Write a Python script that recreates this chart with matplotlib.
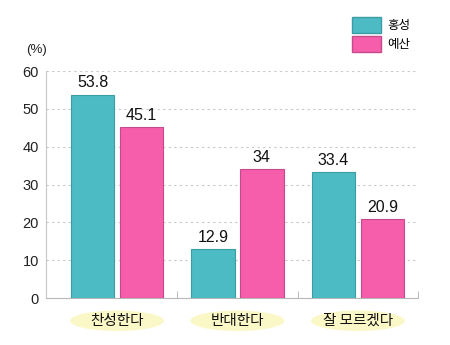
import numpy as np
import matplotlib
matplotlib.use('Agg')
from matplotlib import pyplot as plt
from matplotlib.patches import Ellipse, Patch
from matplotlib.transforms import blended_transform_factory

plt.rcParams['font.family'] = ['Liberation Sans', 'Noto Sans CJK KR', 'DejaVu Sans']

categories = ['찬성한다', '반대한다', '잘 모르겠다']
series_names = ['홍성', '예산']
hongseong = [53.8, 12.9, 33.4]
yesan = [45.1, 34, 20.9]
value_labels_h = ['53.8', '12.9', '33.4']
value_labels_y = ['45.1', '34', '20.9']
yticks = [0, 10, 20, 30, 40, 50, 60]

teal = '#4dbbc4'
pink = '#f65dab'
kr = ['Noto Sans CJK KR', 'DejaVu Sans']

fig = plt.figure(figsize=(4.5, 3.45), dpi=100)
ax = fig.add_axes([0.102, 0.136, 0.827, 0.658])

x = np.arange(len(categories))
w = 0.36
off = 0.203
b1 = ax.bar(x - off, hongseong, w, color=teal, edgecolor='#3a9ca4', linewidth=0.8, zorder=3)
b2 = ax.bar(x + off, yesan, w, color=pink, edgecolor='#c44a8c', linewidth=0.8, zorder=3)

for bars, labels in [(b1, value_labels_h), (b2, value_labels_y)]:
    for rect, lab in zip(bars, labels):
        ax.annotate(lab, (rect.get_x() + rect.get_width() / 2, rect.get_height()),
                    xytext=(0, 3), textcoords='offset points', ha='center', va='bottom',
                    fontsize=11.5, color='#111111')

ax.set_xlim(-0.59, 2.5)
ax.set_ylim(0, 60)
ax.set_yticks(yticks)
ax.tick_params(axis='y', length=0, pad=5, labelsize=10.5, labelcolor='#222222')
ax.yaxis.grid(True, linestyle=(0, (2, 3)), color='#c8c8c8', linewidth=0.8, zorder=0)

ax.set_xticks(x)
ax.set_xticklabels([])
ax.tick_params(axis='x', length=0)
ax.set_xticks([0.5, 1.5, 2.5], minor=True)
ax.tick_params(axis='x', which='minor', direction='in', length=5, color='#b0b0b0')

for s in ['top', 'right']:
    ax.spines[s].set_visible(False)
ax.spines['left'].set_color('#c8c8c8')
ax.spines['bottom'].set_color('#b8b8b8')

trans = blended_transform_factory(ax.transData, ax.transAxes)
for xi, cat in zip(x, categories):
    e = Ellipse((xi, -0.1), 0.78, 0.09, transform=trans, facecolor='#fbf8c8',
                edgecolor='none', clip_on=False)
    ax.add_patch(e)
    ax.text(xi, -0.1, cat, transform=trans, ha='center', va='center',
            fontsize=10.5, family=kr, fontweight='medium', color='#111111')

fig.text(0.057, 0.855, '(%)', fontsize=9.5, va='center', color='#222222')

handles = [Patch(facecolor=teal, edgecolor='#3a9ca4'), Patch(facecolor=pink, edgecolor='#c44a8c')]
fig.legend(handles, series_names, loc='upper left', bbox_to_anchor=(0.782, 0.951),
           frameon=False, borderpad=0, borderaxespad=0,
           handlelength=2.3, handleheight=1.55, handletextpad=0.55,
           labelspacing=0.3, prop={'family': kr, 'size': 9})

fig.savefig('out.png', dpi=100)
